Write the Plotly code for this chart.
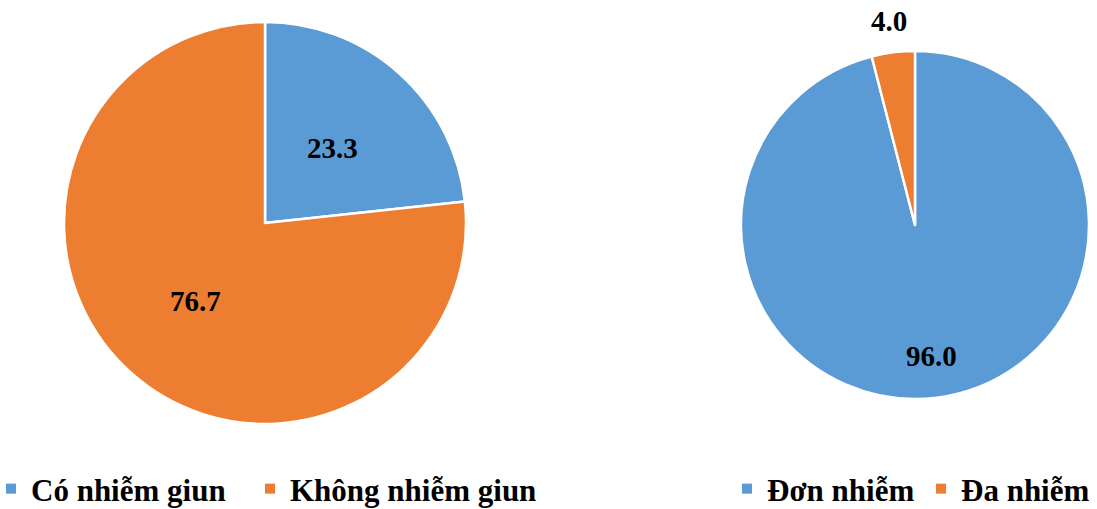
import math
import plotly.graph_objects as go

# Tỷ lệ nhiễm giun (%)
infection_labels = ["Có nhiễm giun", "Không nhiễm giun"]
infection_values = [23.3, 76.7]

# Cơ cấu nhiễm trong nhóm có nhiễm giun (%)
type_labels = ["Đơn nhiễm", "Đa nhiễm"]
type_values = [96.0, 4.0]

BLUE = "#5B9BD5"
ORANGE = "#ED7D31"
COLORS = [BLUE, ORANGE]
FONT = "Liberation Serif"

W, H = 1097, 509


def domain(cx, cy, r):
    """Pie domain (paper coords) from a centre and radius in pixels (y from top)."""
    return dict(
        x=[(cx - r) / W, (cx + r) / W],
        y=[(H - cy - r) / H, (H - cy + r) / H],
    )


def value_labels(values, cx, cy, r, radial):
    """Data labels placed along each slice's mid-angle (clockwise from 12 o'clock)."""
    total = sum(values)
    cum = 0.0
    out = []
    for v, k in zip(values, radial):
        theta = 2 * math.pi * (cum + v / 2) / total
        cum += v
        px = cx + k * r * math.sin(theta)
        py = cy - k * r * math.cos(theta)
        out.append(dict(
            x=px / W, y=1 - py / H, xref="paper", yref="paper",
            text=f"{v:.1f}", showarrow=False,
            font=dict(family=FONT, size=29, color="black", weight="bold"),
            xanchor="center", yanchor="middle",
        ))
    return out


LEFT = (265, 223, 201)
RIGHT = (915, 225, 174)

fig = go.Figure()

for labels, values, geom in ((infection_labels, infection_values, LEFT),
                             (type_labels, type_values, RIGHT)):
    fig.add_trace(go.Pie(
        labels=labels,
        values=values,
        sort=False,
        direction="clockwise",
        rotation=0,
        marker=dict(colors=COLORS, line=dict(color="white", width=2.5)),
        textinfo="none",
        domain=domain(*geom),
        showlegend=False,
        hoverinfo="label+value",
    ))

# Legend entries: one small square per category, each in its own legend box
legend_names = ["legend", "legend2", "legend3", "legend4"]
legend_x_px = [-9, 250, 727, 921]
for name, label, color in zip(legend_names,
                              infection_labels + type_labels,
                              COLORS + COLORS):
    fig.add_trace(go.Scatter(
        x=[None], y=[None], mode="markers",
        marker=dict(symbol="square", size=10, color=color),
        name=label, legend=name, hoverinfo="skip",
    ))

annotations = (
    value_labels(infection_values, *LEFT, radial=[0.5, 0.52])
    + value_labels(type_values, *RIGHT, radial=[0.76, 1.18])
)

legend_font = dict(family=FONT, size=31, color="black", weight="bold")
legends = {
    name: dict(
        x=px / W, y=20 / H,
        xanchor="left", yanchor="middle",
        font=legend_font,
        itemwidth=30,
        bgcolor="rgba(0,0,0,0)",
    )
    for name, px in zip(legend_names, legend_x_px)
}

fig.update_layout(
    width=W,
    height=H,
    margin=dict(l=0, r=0, t=0, b=0, autoexpand=False),
    paper_bgcolor="white",
    plot_bgcolor="rgba(0,0,0,0)",
    font=dict(family=FONT),
    xaxis=dict(visible=False),
    yaxis=dict(visible=False),
    annotations=annotations,
    **legends,
)

fig.write_html("out.html")
